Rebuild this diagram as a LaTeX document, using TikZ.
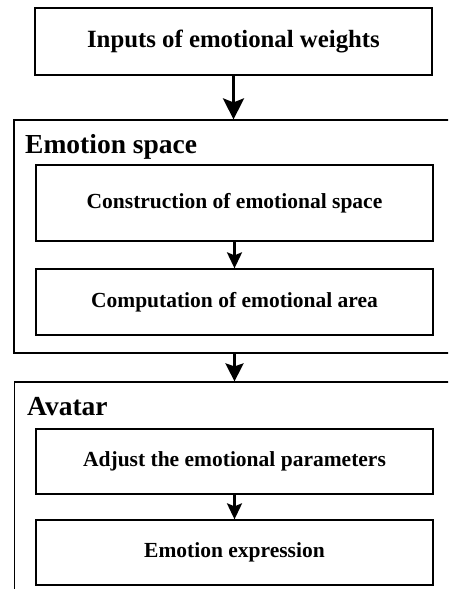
\documentclass[tikz,border=0pt]{standalone}
\usepackage{fontspec}
\setmainfont{Liberation Serif}
\usetikzlibrary{arrows.meta}
\begin{document}
\begin{tikzpicture}[x=1pt,y=-1pt,
  box/.style={draw,line width=1.3pt,inner sep=0pt,minimum width=397pt,
    font=\bfseries\fontsize{21.5}{24}\selectfont},
  topbox/.style={box,font=\bfseries\fontsize{24.8}{28}\selectfont},
  outerbox/.style={draw,line width=1.2pt,inner sep=0pt,minimum width=448pt},
  title/.style={inner sep=0pt,anchor=base west,font=\bfseries\fontsize{27.5}{30}\selectfont},
  bigarrow/.style={line width=3pt,-{Stealth[length=21pt,width=21pt,inset=4pt]}},
  midarrow/.style={line width=2.8pt,-{Stealth[length=18pt,width=18pt,inset=3pt]}},
  smallarrow/.style={line width=2.5pt,-{Stealth[length=16pt,width=15pt,inset=3pt]}}]
\useasboundingbox (0,0) rectangle (448,589);
\clip (0,0) rectangle (448,589);
\fill[white] (0,0) rectangle (448,589);
% top box
\node[topbox,minimum height=67pt] (inp) at (233.5,41.5) {Inputs of emotional weights};
% emotion space
\node[outerbox,minimum height=233pt] (es) at (238,236.5) {};
\node[title] (est) at (25,153) {Emotion space};
\node[box,minimum height=76pt] (cons) at (234.5,203) {Construction of emotional space};
\node[box,minimum height=66pt] (comp) at (234.5,302) {Computation of emotional area};
% avatar
\node[outerbox,minimum height=240pt] (av) at (238.5,502) {};
\node[title] (avt) at (27,415) {Avatar};
\node[box,minimum height=65pt] (adj) at (234.5,461.5) {Adjust the emotional parameters};
\node[box,minimum height=65pt] (expr) at (234.5,552.5) {Emotion expression};
% arrows
\draw[bigarrow] (inp.south) -- (inp.south |- es.north);
\draw[smallarrow] (cons.south) -- (comp.north);
\draw[midarrow] (comp.south |- es.south) -- (comp.south |- av.north);
\draw[smallarrow] (adj.south) -- (expr.north);
\end{tikzpicture}
\end{document}
